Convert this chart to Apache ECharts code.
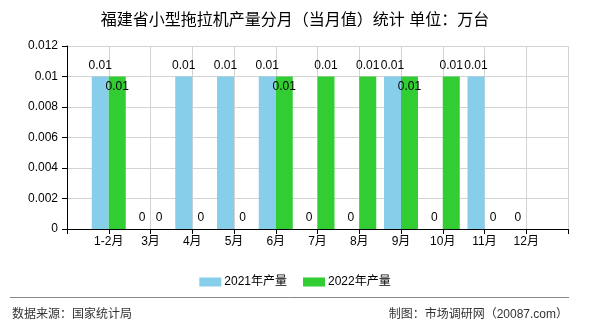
<!DOCTYPE html>
<html><head><meta charset="utf-8">
<script src="https://cdn.jsdelivr.net/npm/echarts@6/dist/echarts.min.js"></script>
<style>html,body{margin:0;padding:0;background:#fff}#c{width:590px;height:330px}</style>
</head><body><div id="c"></div>
<script>
var titleText = '福建省小型拖拉机产量分月（当月值）统计 单位：万台';
var categories = ['', '1-2月', '3月', '4月', '5月', '6月', '7月', '8月', '9月', '10月', '11月', '12月', ''];
var seriesNames = ['2021年产量', '2022年产量'];
var values2021 = [null, 0.01, 0, 0.01, 0.01, 0.01, 0, 0, 0.01, 0, 0.01, 0, null];
var values2022 = [null, 0.01, 0, 0, 0, 0.01, 0.01, 0.01, 0.01, 0.01, 0, null, null];
var yTicks = [0, 0.002, 0.004, 0.006, 0.008, 0.01, 0.012];
var sourceText = '数据来源：国家统计局';
var makerText = '制图：市场调研网（20087.com）';

var FONT = '"Liberation Sans", "Noto Sans CJK SC", sans-serif';
var colors = ['#87CEEB', '#32CD32'];

// second series labels drop inside the bar when they would collide with the first series' label
var data2022 = values2022.map(function (v, i) {
  if (v === null) return null;
  var o = { value: v };
  if (values2021[i] !== null && values2021[i] === v && v !== 0) {
    o.label = { offset: [0, 21] };
  }
  return o;
});

var chart = echarts.init(document.getElementById('c'), null, { renderer: 'canvas' });
chart.setOption({
  animation: false,
  color: colors,
  title: {
    text: titleText, left: 'center', top: 8,
    textStyle: { fontSize: 16, fontWeight: 'normal', color: '#000', fontFamily: FONT }
  },
  legend: {
    data: seriesNames, left: 'center', top: 271, itemWidth: 22, itemHeight: 9, itemGap: 16,
    icon: 'rect',
    textStyle: { fontSize: 12, color: '#000', fontFamily: FONT, padding: [0, 0, 0, -2] }
  },
  grid: { left: 67, right: 22, top: 46, bottom: 101, containLabel: false },
  xAxis: {
    type: 'category', data: categories, boundaryGap: false,
    axisLine: { lineStyle: { color: '#000' } },
    axisTick: { interval: 0, lineStyle: { color: '#000' }, length: 5 },
    axisLabel: { interval: 0, color: '#000', fontSize: 12, fontFamily: FONT, margin: 7 },
    splitLine: { show: true, interval: 0, lineStyle: { color: '#d3d3d3' } }
  },
  yAxis: {
    type: 'value', min: yTicks[0], max: yTicks[yTicks.length - 1], interval: yTicks[1] - yTicks[0],
    axisLine: { show: true, lineStyle: { color: '#000' } },
    axisTick: { show: true, lineStyle: { color: '#000' }, length: 5 },
    axisLabel: { color: '#000', fontSize: 12, fontFamily: FONT, margin: 9,
      formatter: function (v) { return String(parseFloat(v.toFixed(6))); } },
    splitLine: { show: true, lineStyle: { color: '#d3d3d3' } }
  },
  series: [
    { name: seriesNames[0], type: 'bar', data: values2021, barWidth: 17, barGap: '0%',
      label: { show: true, position: 'top', distance: 5, color: '#000', fontSize: 12, fontFamily: FONT } },
    { name: seriesNames[1], type: 'bar', data: data2022, barWidth: 17, barGap: '0%',
      label: { show: true, position: 'top', distance: 5, color: '#000', fontSize: 12, fontFamily: FONT } }
  ],
  graphic: [
    { type: 'line', shape: { x1: 10, y1: 297.5, x2: 569, y2: 297.5 }, style: { stroke: '#888', lineWidth: 1 } },
    { type: 'text', left: 12, top: 309, style: { text: sourceText, fontSize: 12, fill: '#333', fontFamily: FONT } },
    { type: 'text', right: 22, top: 309, style: { text: makerText, fontSize: 12, fill: '#333', fontFamily: FONT } }
  ]
});
</script>
</body></html>
